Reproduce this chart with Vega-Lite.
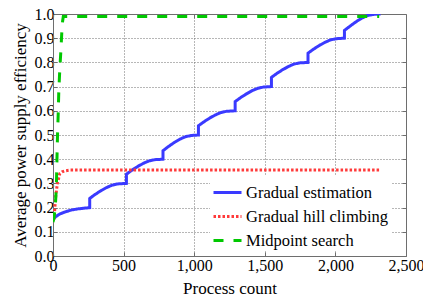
{
  "$schema": "https://vega.github.io/schema/vega-lite/v6.json",
  "width": 353,
  "height": 242,
  "autosize": "none",
  "padding": {"left": 53, "top": 14, "right": 17, "bottom": 44},
  "background": "white",
  "config": {
    "font": "serif",
    "view": {"stroke": "#6e6e6e", "strokeWidth": 1},
    "axis": {
      "labelFont": "serif",
      "titleFont": "serif",
      "labelFontSize": 16,
      "labelColor": "black",
      "titleFontSize": 17,
      "titleFontWeight": "normal",
      "titleColor": "black",
      "gridDash": [1, 2],
      "gridColor": "#6e6e6e",
      "gridOpacity": 1,
      "gridWidth": 1,
      "tickColor": "#6e6e6e",
      "domainColor": "#6e6e6e",
      "tickSize": -4
    },
    "legend": {
      "orient": "none",
      "legendX": 157,
      "legendY": 161,
      "padding": 2,
      "fillColor": "white",
      "strokeColor": null,
      "symbolType": "stroke",
      "symbolSize": 784,
      "symbolStrokeWidth": 3,
      "labelFont": "serif",
      "labelFontSize": 16.5,
      "labelColor": "black",
      "labelOffset": 3,
      "rowPadding": -7.5,
      "labelLimit": 300
    }
  },
  "data": {
    "values": [
      {"s": "Gradual estimation", "x": 0, "y": 0.15},
      {"s": "Gradual estimation", "x": 20, "y": 0.163},
      {"s": "Gradual estimation", "x": 50, "y": 0.174},
      {"s": "Gradual estimation", "x": 85, "y": 0.182},
      {"s": "Gradual estimation", "x": 130, "y": 0.19},
      {"s": "Gradual estimation", "x": 180, "y": 0.195},
      {"s": "Gradual estimation", "x": 260, "y": 0.2},
      {"s": "Gradual estimation", "x": 260, "y": 0.238},
      {"s": "Gradual estimation", "x": 300, "y": 0.255},
      {"s": "Gradual estimation", "x": 340, "y": 0.27},
      {"s": "Gradual estimation", "x": 380, "y": 0.283},
      {"s": "Gradual estimation", "x": 420, "y": 0.293},
      {"s": "Gradual estimation", "x": 460, "y": 0.298},
      {"s": "Gradual estimation", "x": 520, "y": 0.3},
      {"s": "Gradual estimation", "x": 520, "y": 0.338},
      {"s": "Gradual estimation", "x": 560, "y": 0.355},
      {"s": "Gradual estimation", "x": 600, "y": 0.37},
      {"s": "Gradual estimation", "x": 640, "y": 0.383},
      {"s": "Gradual estimation", "x": 680, "y": 0.393},
      {"s": "Gradual estimation", "x": 720, "y": 0.398},
      {"s": "Gradual estimation", "x": 779, "y": 0.4},
      {"s": "Gradual estimation", "x": 779, "y": 0.435},
      {"s": "Gradual estimation", "x": 819, "y": 0.453},
      {"s": "Gradual estimation", "x": 859, "y": 0.469},
      {"s": "Gradual estimation", "x": 899, "y": 0.483},
      {"s": "Gradual estimation", "x": 939, "y": 0.493},
      {"s": "Gradual estimation", "x": 979, "y": 0.498},
      {"s": "Gradual estimation", "x": 1030, "y": 0.5},
      {"s": "Gradual estimation", "x": 1030, "y": 0.538},
      {"s": "Gradual estimation", "x": 1070, "y": 0.555},
      {"s": "Gradual estimation", "x": 1110, "y": 0.57},
      {"s": "Gradual estimation", "x": 1150, "y": 0.583},
      {"s": "Gradual estimation", "x": 1190, "y": 0.593},
      {"s": "Gradual estimation", "x": 1230, "y": 0.598},
      {"s": "Gradual estimation", "x": 1290, "y": 0.6},
      {"s": "Gradual estimation", "x": 1290, "y": 0.638},
      {"s": "Gradual estimation", "x": 1330, "y": 0.655},
      {"s": "Gradual estimation", "x": 1370, "y": 0.67},
      {"s": "Gradual estimation", "x": 1410, "y": 0.683},
      {"s": "Gradual estimation", "x": 1450, "y": 0.693},
      {"s": "Gradual estimation", "x": 1490, "y": 0.698},
      {"s": "Gradual estimation", "x": 1547, "y": 0.7},
      {"s": "Gradual estimation", "x": 1547, "y": 0.738},
      {"s": "Gradual estimation", "x": 1587, "y": 0.755},
      {"s": "Gradual estimation", "x": 1627, "y": 0.77},
      {"s": "Gradual estimation", "x": 1667, "y": 0.783},
      {"s": "Gradual estimation", "x": 1707, "y": 0.793},
      {"s": "Gradual estimation", "x": 1747, "y": 0.798},
      {"s": "Gradual estimation", "x": 1806, "y": 0.8},
      {"s": "Gradual estimation", "x": 1806, "y": 0.838},
      {"s": "Gradual estimation", "x": 1846, "y": 0.855},
      {"s": "Gradual estimation", "x": 1886, "y": 0.87},
      {"s": "Gradual estimation", "x": 1926, "y": 0.883},
      {"s": "Gradual estimation", "x": 1966, "y": 0.893},
      {"s": "Gradual estimation", "x": 2006, "y": 0.898},
      {"s": "Gradual estimation", "x": 2064, "y": 0.9},
      {"s": "Gradual estimation", "x": 2064, "y": 0.932},
      {"s": "Gradual estimation", "x": 2104, "y": 0.95},
      {"s": "Gradual estimation", "x": 2144, "y": 0.967},
      {"s": "Gradual estimation", "x": 2184, "y": 0.982},
      {"s": "Gradual estimation", "x": 2224, "y": 0.993},
      {"s": "Gradual estimation", "x": 2264, "y": 0.998},
      {"s": "Gradual estimation", "x": 2320, "y": 1.0},
      {"s": "Gradual hill climbing", "x": 0, "y": 0.15},
      {"s": "Gradual hill climbing", "x": 7, "y": 0.155},
      {"s": "Gradual hill climbing", "x": 12, "y": 0.19},
      {"s": "Gradual hill climbing", "x": 19, "y": 0.245},
      {"s": "Gradual hill climbing", "x": 31, "y": 0.3},
      {"s": "Gradual hill climbing", "x": 48, "y": 0.34},
      {"s": "Gradual hill climbing", "x": 65, "y": 0.348},
      {"s": "Gradual hill climbing", "x": 85, "y": 0.352},
      {"s": "Gradual hill climbing", "x": 120, "y": 0.355},
      {"s": "Gradual hill climbing", "x": 2320, "y": 0.355},
      {"s": "Midpoint search", "x": 0, "y": 0.14},
      {"s": "Midpoint search", "x": 8, "y": 0.16},
      {"s": "Midpoint search", "x": 17, "y": 0.21},
      {"s": "Midpoint search", "x": 24, "y": 0.29},
      {"s": "Midpoint search", "x": 28, "y": 0.4},
      {"s": "Midpoint search", "x": 32, "y": 0.5},
      {"s": "Midpoint search", "x": 37, "y": 0.59},
      {"s": "Midpoint search", "x": 41, "y": 0.68},
      {"s": "Midpoint search", "x": 48, "y": 0.77},
      {"s": "Midpoint search", "x": 55, "y": 0.84},
      {"s": "Midpoint search", "x": 62, "y": 0.92},
      {"s": "Midpoint search", "x": 68, "y": 0.97},
      {"s": "Midpoint search", "x": 73, "y": 0.99},
      {"s": "Midpoint search", "x": 2310, "y": 0.99}
    ]
  },
  "layer": [
    {
      "mark": {"type": "line", "strokeWidth": 3, "clip": true},
      "encoding": {
        "x": {
          "field": "x", "type": "quantitative",
          "scale": {"domain": [0, 2500], "nice": false},
          "axis": {"orient": "bottom", "title": "Process count", "values": [0, 500, 1000, 1500, 2000, 2500], "format": ",.0f", "grid": true, "labelFlush": false, "labelPadding": 5, "titlePadding": 7}
        },
        "y": {
          "field": "y", "type": "quantitative",
          "scale": {"domain": [0, 1], "nice": false},
          "axis": {"orient": "left", "title": "Average power supply efficiency", "values": [0, 0.1, 0.2, 0.3, 0.4, 0.5, 0.6, 0.7, 0.8, 0.9, 1.0], "format": ".1f", "grid": true, "labelFlush": false, "labelPadding": 3, "titlePadding": 5}
        },
        "color": {
          "field": "s", "type": "nominal",
          "scale": {"domain": ["Gradual estimation", "Gradual hill climbing", "Midpoint search"], "range": ["#3a3aff", "#ff3a3a", "#00c800"]},
          "legend": {"title": null}
        },
        "strokeDash": {
          "field": "s", "type": "nominal",
          "scale": {"domain": ["Gradual estimation", "Gradual hill climbing", "Midpoint search"], "range": [[1, 0], [2.5, 2], [10, 10]]},
          "legend": {"title": null}
        },
        "order": {"value": null}
      }
    },
    {
      "mark": {"type": "line", "opacity": 0},
      "encoding": {
        "x": {"field": "x", "type": "quantitative", "axis": {"orient": "top", "title": null, "labels": false, "domain": false, "grid": false, "values": [500, 1000, 1500, 2000]}},
        "y": {"field": "y", "type": "quantitative", "axis": {"orient": "right", "title": null, "labels": false, "domain": false, "grid": false, "values": [0.1, 0.2, 0.3, 0.4, 0.5, 0.6, 0.7, 0.8, 0.9]}},
        "detail": {"field": "s", "type": "nominal"}
      }
    }
  ],
  "resolve": {"axis": {"x": "independent", "y": "independent"}}
}
